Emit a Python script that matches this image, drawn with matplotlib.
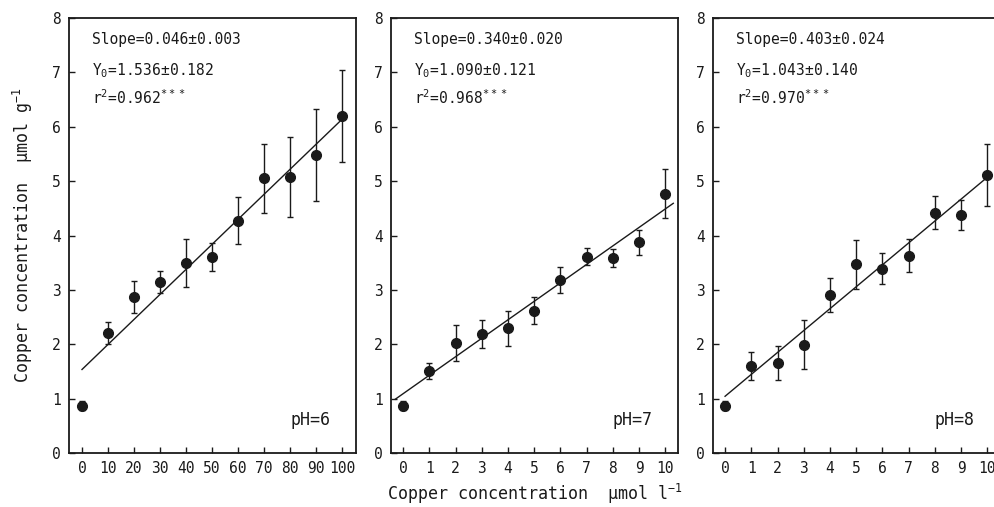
import matplotlib
matplotlib.use("Agg")
import matplotlib.pyplot as plt
import numpy as np

plt.rcParams["font.family"] = ["DejaVu Sans Mono"]
plt.rcParams["mathtext.fontset"] = "dejavusans"

# data
x_ph6 = [0, 10, 20, 30, 40, 50, 60, 70, 80, 90, 100]
y_ph6 = [0.87, 2.21, 2.87, 3.14, 3.50, 3.60, 4.27, 5.05, 5.08, 5.48, 6.20]
e_ph6 = [0.08, 0.20, 0.29, 0.20, 0.44, 0.26, 0.43, 0.64, 0.74, 0.84, 0.85]

x_ph7 = [0, 1, 2, 3, 4, 5, 6, 7, 8, 9, 10]
y_ph7 = [0.87, 1.51, 2.03, 2.19, 2.29, 2.62, 3.18, 3.61, 3.59, 3.88, 4.77]
e_ph7 = [0.08, 0.14, 0.33, 0.26, 0.33, 0.25, 0.24, 0.16, 0.17, 0.23, 0.45]

x_ph8 = [0, 1, 2, 3, 4, 5, 6, 7, 8, 9, 10]
y_ph8 = [0.87, 1.60, 1.65, 1.99, 2.90, 3.47, 3.39, 3.63, 4.42, 4.38, 5.11]
e_ph8 = [0.08, 0.26, 0.31, 0.45, 0.31, 0.45, 0.28, 0.30, 0.30, 0.27, 0.57]

slopes = [0.046, 0.340, 0.403]
intercepts = [1.536, 1.090, 1.043]
fit_ranges = [(0, 100), (-0.3, 10.3), (0, 10)]
stats = [
    ("Slope=0.046\u00b10.003", "1.536\u00b10.182", "0.962"),
    ("Slope=0.340\u00b10.020", "1.090\u00b10.121", "0.968"),
    ("Slope=0.403\u00b10.024", "1.043\u00b10.140", "0.970"),
]
ph_labels = ["pH=6", "pH=7", "pH=8"]
xticks = [list(range(0, 101, 10)), list(range(0, 11)), list(range(0, 11))]
xlims = [(-5, 105.4), (-0.46, 10.48), (-0.46, 10.48)]

ink = "#1a1a1a"
fig = plt.figure(figsize=(9.94, 5.07), dpi=100)
lefts = [69 / 994, 391 / 994, 713 / 994]
series = [(x_ph6, y_ph6, e_ph6), (x_ph7, y_ph7, e_ph7), (x_ph8, y_ph8, e_ph8)]

for i in range(3):
    ax = fig.add_axes([lefts[i], 54 / 507, 287 / 994, 435 / 507])
    xs, ys, es = series[i]
    ax.errorbar(xs, ys, yerr=es, fmt="o", color=ink, ms=7, capsize=2.5,
                elinewidth=1.0, capthick=1.0)
    fx = np.array(fit_ranges[i])
    ax.plot(fx, intercepts[i] + slopes[i] * fx, color=ink, lw=1.0)

    ax.set_xlim(*xlims[i])
    ax.set_ylim(0, 8)
    ax.set_xticks(xticks[i])
    ax.set_yticks(range(0, 9))
    ax.tick_params(axis="both", direction="in", length=4, width=1.0,
                   colors=ink, labelsize=10.5, pad=6)
    for sp in ax.spines.values():
        sp.set_linewidth(1.3)
        sp.set_color(ink)

    s, y0, r2 = stats[i]
    tr = ax.get_yaxis_transform()
    ax.text(0.08, 7.61, s, transform=tr, fontsize=10.5, va="center", color=ink)
    ax.text(0.08, 7.04, "Y$_\\mathregular{0}$=" + y0, transform=tr,
            fontsize=10.5, va="center", color=ink)
    ax.text(0.08, 6.54, "r$^\\mathregular{2}$=" + r2 + "$^\\mathregular{***}$",
            transform=tr, fontsize=10.5, va="center", color=ink)
    ax.text(0.91, 0.6, ph_labels[i], transform=tr, fontsize=12,
            ha="right", va="center", color=ink)

    if i == 0:
        ax.set_ylabel("Copper concentration  \u03bcmol g$^\\mathregular{-1}$",
                      fontsize=12, color=ink, labelpad=12)
    if i == 1:
        ax.set_xlabel("Copper concentration  \u03bcmol l$^\\mathregular{-1}$",
                      fontsize=12, color=ink, labelpad=4)

fig.savefig("out.png", dpi=100)
